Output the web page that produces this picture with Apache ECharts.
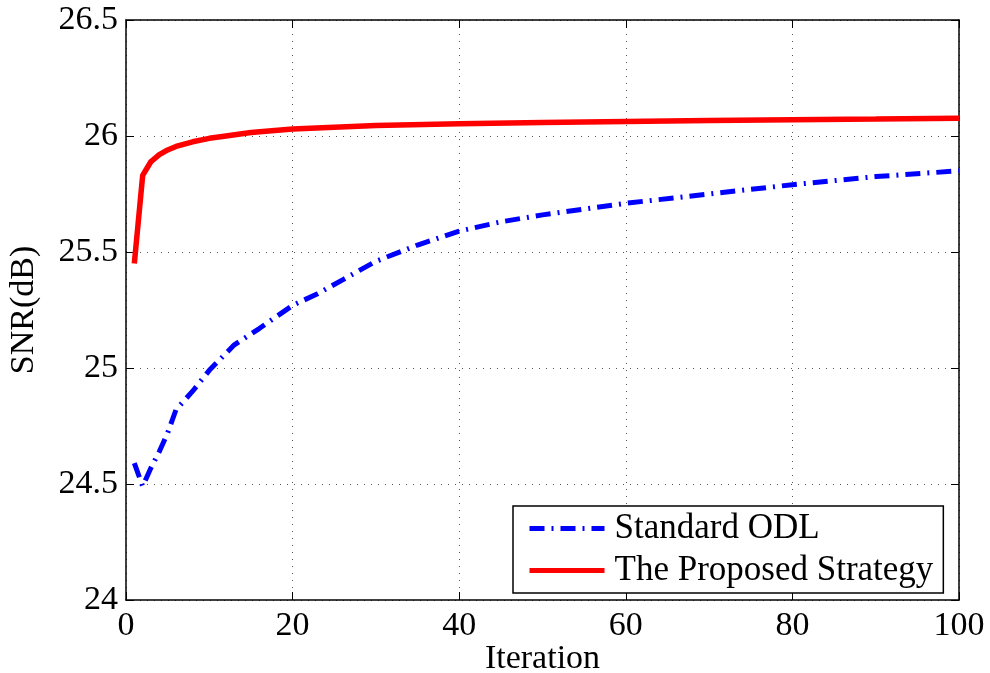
<!DOCTYPE html>
<html>
<head>
<meta charset="utf-8">
<script src="https://cdn.jsdelivr.net/npm/echarts@6/dist/echarts.min.js"></script>
<style>
  html, body { margin: 0; padding: 0; background: #fff; }
  #chart { width: 990px; height: 673px; }
</style>
</head>
<body>
<div id="chart"></div>
<script>
// values
const odlIter = [1, 2, 3, 4, 5, 6, 8, 10, 13, 16, 20, 23, 26, 30, 35, 40, 45, 50, 55, 60, 70, 80, 90, 100];
const odlSnr = [24.59, 24.49, 24.57, 24.64, 24.72, 24.82, 24.9, 24.99, 25.1, 25.17, 25.27, 25.32, 25.38, 25.46, 25.53, 25.59, 25.63, 25.66, 25.685, 25.71, 25.75, 25.79, 25.825, 25.85];

const propIter = [1, 2, 3, 4, 5, 6, 7, 8, 10, 12, 15, 20, 25, 30, 40, 50, 60, 70, 80, 90, 100];
const propSnr = [25.45, 25.83, 25.89, 25.92, 25.94, 25.955, 25.965, 25.975, 25.99, 26.0, 26.015, 26.03, 26.038, 26.045, 26.053, 26.058, 26.063, 26.067, 26.07, 26.073, 26.077];

const seriesNames = ["Standard ODL", "The Proposed Strategy"];
const xTicks = { min: 0, max: 100, interval: 20 };
const yTicks = { min: 24, max: 26.5, interval: 0.5 };

const font = "'Liberation Serif', 'DejaVu Serif', serif";
const zip = (xs, ys) => xs.map((x, i) => [x, ys[i]]);

const chart = echarts.init(document.getElementById("chart"));

const gridLine = {
    show: true,
    lineStyle: { color: "#555", width: 1, type: [1, 6] },
};
const boxLine = { show: true, onZero: false, lineStyle: { color: "#000", width: 1.5 } };
const tick = { show: true, inside: true, length: 8, lineStyle: { color: "#000", width: 1 } };

const option = {
    animation: false,
    backgroundColor: "#fff",
    grid: { left: 126, top: 20, right: 31, bottom: 73, outerBoundsMode: "none", containLabel: false },
    legend: {
        data: seriesNames,
        orient: "vertical",
        left: 513,
        top: 506,
        padding: [5, 10, 5, 14],
        itemGap: 7,
        itemWidth: 75,
        itemHeight: 14,
        backgroundColor: "#fff",
        borderColor: "#000",
        borderWidth: 1.5,
        itemStyle: { opacity: 0 },
        lineStyle: { width: 5 },
        textStyle: { fontFamily: font, fontSize: 35, color: "#000", lineHeight: 32, padding: [0, 0, 0, 5] },
    },
    xAxis: [
        {
            type: "value",
            ...xTicks,
            name: "Iteration",
            nameLocation: "middle",
            nameGap: 42,
            nameMoveOverlap: false,
            nameTextStyle: { fontFamily: font, fontSize: 34, color: "#000" },
            axisLine: boxLine,
            axisTick: tick,
            axisLabel: { fontFamily: font, fontSize: 34, color: "#000", margin: 9 },
            splitLine: gridLine,
        },
        {
            type: "value",
            position: "top",
            ...xTicks,
            axisLine: boxLine,
            axisTick: tick,
            axisLabel: { show: false },
            splitLine: { show: false },
        },
    ],
    yAxis: [
        {
            type: "value",
            ...yTicks,
            name: "SNR(dB)",
            nameLocation: "middle",
            nameGap: 85,
            nameMoveOverlap: false,
            nameTextStyle: { fontFamily: font, fontSize: 34, color: "#000" },
            axisLine: boxLine,
            axisTick: tick,
            axisLabel: { fontFamily: font, fontSize: 34, color: "#000", margin: 8 },
            splitLine: gridLine,
        },
        {
            type: "value",
            position: "right",
            ...yTicks,
            axisLine: boxLine,
            axisTick: tick,
            axisLabel: { show: false },
            splitLine: { show: false },
        },
    ],
    series: [
        {
            name: seriesNames[0],
            type: "line",
            symbol: "none",
            data: zip(odlIter, odlSnr),
            lineStyle: { color: "#0000ff", width: 5, type: [15, 7, 2, 7] },
            itemStyle: { color: "#0000ff" },
        },
        {
            name: seriesNames[1],
            type: "line",
            symbol: "none",
            data: zip(propIter, propSnr),
            lineStyle: { color: "#ff0000", width: 5.5 },
            itemStyle: { color: "#ff0000" },
        },
    ],
};

chart.setOption(option);
</script>
</body>
</html>
